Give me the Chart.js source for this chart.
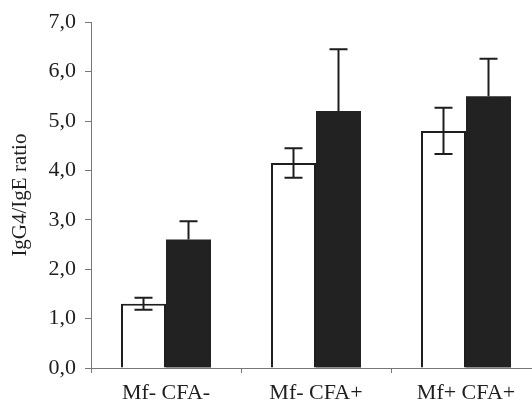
<!DOCTYPE html>
<html>
<head>
<meta charset="utf-8">
<script src="https://cdn.jsdelivr.net/npm/chart.js@4/dist/chart.umd.min.js"></script>
<style>
  html, body { margin: 0; padding: 0; background: #fff; overflow: hidden; }
  #wrap { width: 560px; height: 413px; }
</style>
</head>
<body>
<div id="wrap"><canvas id="myChart" width="560" height="413"></canvas></div>
<script>
const groups = ["Mf- CFA-", "Mf- CFA+", "Mf+ CFA+"];
const openValues = [1.3, 4.15, 4.8];
const openErrors = [0.12, 0.3, 0.47];
const filledValues = [2.6, 5.2, 5.5];
const filledErrors = [0.37, 1.25, 0.76];
const yTicks = [0, 1, 2, 3, 4, 5, 6, 7];

const FONT = "'Liberation Serif', 'Times New Roman', serif";
const INK = "#1e1e1e";

/* draw whiskers on top of each bar; the dark bars only show the upper half */
const errorBars = {
  id: "errorBars",
  afterDatasetsDraw(chart) {
    const ctx = chart.ctx;
    const y = chart.scales.y;
    chart.data.datasets.forEach((ds, i) => {
      const meta = chart.getDatasetMeta(i);
      meta.data.forEach((bar, j) => {
        const v = ds.data[j];
        const e = ds.errors[j];
        const top = y.getPixelForValue(v + e);
        const bottom = ds.upperOnly ? y.getPixelForValue(v) : y.getPixelForValue(v - e);
        const half = 9;
        ctx.save();
        ctx.strokeStyle = INK;
        ctx.lineWidth = 2;
        ctx.beginPath();
        ctx.moveTo(bar.x, top);
        ctx.lineTo(bar.x, bottom);
        ctx.moveTo(bar.x - half, top);
        ctx.lineTo(bar.x + half, top);
        if (!ds.upperOnly) {
          ctx.moveTo(bar.x - half, bottom);
          ctx.lineTo(bar.x + half, bottom);
        }
        ctx.stroke();
        ctx.restore();
      });
    });
  }
};

const ctx = document.getElementById("myChart").getContext("2d");

new Chart(ctx, {
  type: "bar",
  data: {
    labels: groups,
    datasets: [{
      data: openValues,
      errors: openErrors,
      backgroundColor: "#ffffff",
      borderColor: INK,
      borderWidth: 2,
      categoryPercentage: 0.6,
      barPercentage: 1.0
    }, {
      data: filledValues,
      errors: filledErrors,
      upperOnly: true,
      backgroundColor: "#222222",
      borderColor: "#222222",
      borderWidth: 0,
      categoryPercentage: 0.6,
      barPercentage: 1.0
    }]
  },
  options: {
    responsive: false,
    animation: false,
    layout: { padding: { left: 8, right: 19, top: 19, bottom: 0 } },
    plugins: { legend: { display: false }, tooltip: { enabled: false } },
    scales: {
      x: {
        afterFit(scale) { scale.height = 45; },
        grid: { drawOnChartArea: false, tickLength: 5, color: "#777", offset: true },
        border: { color: "#777", width: 1 },
        ticks: { color: INK, padding: 7, font: { family: FONT, size: 22 } }
      },
      y: {
        min: 0,
        max: 7,
        afterFit(scale) { scale.width = 83; },
        afterBuildTicks(scale) { scale.ticks = yTicks.map(v => ({ value: v })); },
        grid: { drawOnChartArea: false, tickLength: 6, color: "#777" },
        border: { color: "#777", width: 1 },
        ticks: {
          color: INK,
          padding: 9,
          font: { family: FONT, size: 22 },
          callback: v => v.toFixed(1).replace(".", ",")
        },
        title: {
          display: true,
          text: "IgG4/IgE ratio",
          color: INK,
          padding: 0,
          font: { family: FONT, size: 21 }
        }
      }
    }
  },
  plugins: [errorBars]
});
</script>
</body>
</html>
